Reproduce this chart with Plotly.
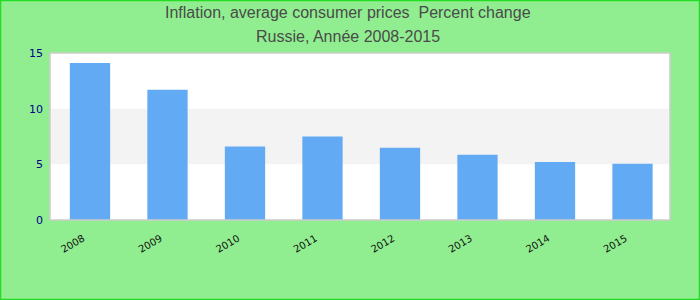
import plotly.graph_objects as go

years = ["2008", "2009", "2010", "2011", "2012", "2013", "2014", "2015"]
values = [14.1, 11.7, 6.6, 7.5, 6.5, 5.85, 5.2, 5.05]
y_ticks = [0, 5, 10, 15]
band = [5, 10]
title_lines = ["Inflation, average consumer prices  Percent change", "Russie, Année 2008-2015"]

W, H = 700, 300
L, R, T, B = 50, 30, 53, 80
pw, ph = W - L - R, H - T - B

fig = go.Figure()
fig.add_trace(go.Bar(x=years, y=values, marker=dict(color="#63aaf4", line=dict(width=0)),
                     width=0.52))

shapes = [
    dict(type="rect", xref="paper", yref="y", x0=0, x1=1, y0=band[0], y1=band[1],
         fillcolor="#f3f3f3", line=dict(width=0), layer="below"),
    dict(type="rect", xref="paper", yref="paper", x0=0, x1=1, y0=0, y1=1,
         line=dict(color="#cccccc", width=1.5), fillcolor="rgba(0,0,0,0)"),
    dict(type="rect", xref="paper", yref="paper",
         x0=-(L - 0.5) / pw, x1=1 + (R - 0.5) / pw,
         y0=-(B - 0.5) / ph, y1=1 + (T - 0.5) / ph,
         line=dict(color="#22dd22", width=1.5), fillcolor="rgba(0,0,0,0)"),
]

annotations = []
for txt, ypix in zip(title_lines, [12.5, 36]):
    annotations.append(dict(text=txt, showarrow=False, xref="paper", yref="paper",
                            x=(348 - L) / pw, xanchor="center",
                            y=1 + (T - ypix) / ph, yanchor="middle",
                            font=dict(family="Liberation Sans, Arial", size=16, color="#4a4a4a")))

fig.update_layout(
    width=W, height=H,
    margin=dict(l=L, r=R, t=T, b=B),
    paper_bgcolor="#90ee90",
    plot_bgcolor="#ffffff",
    showlegend=False,
    shapes=shapes,
    annotations=annotations,
    xaxis=dict(range=[-0.516, 7.484], showgrid=False, zeroline=False, showline=False, ticks="",
               tickangle=-30, ticklabelstandoff=10, ticklabelshift=-7,
               tickfont=dict(family="DejaVu Sans", size=10, color="#111111")),
    yaxis=dict(range=[0, 15], tickvals=y_ticks, showgrid=False, zeroline=False,
               showline=False, ticks="", ticklabelstandoff=6,
               tickfont=dict(family="DejaVu Sans", size=11, color="#00008b")),
)

fig.write_html("out.html", config={"displayModeBar": False},
               post_script="document.body.style.margin='0';")
